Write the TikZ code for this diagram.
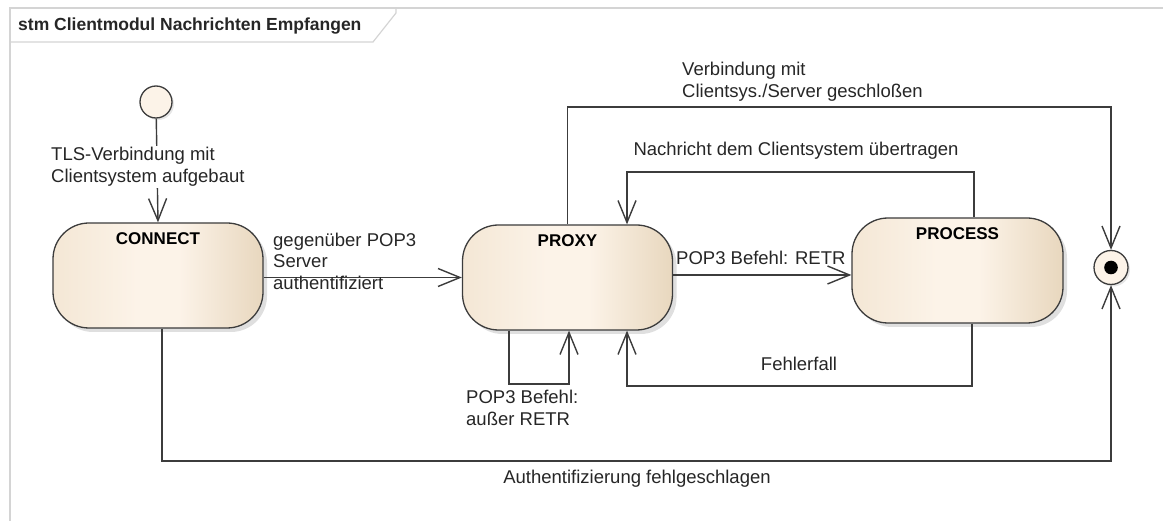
\documentclass[tikz,border=0pt]{standalone}
\usepackage{fontspec}
\setmainfont{Liberation Sans}
\usetikzlibrary{arrows.meta,shadows,calc}
\definecolor{ln}{HTML}{3C3C3C}
\definecolor{txt}{HTML}{262626}
\definecolor{frm}{HTML}{D4D4D4}
\definecolor{stL}{HTML}{F4E7D5}
\definecolor{stM}{HTML}{FCF3E8}
\definecolor{stR}{HTML}{E8D7BE}
\pgfdeclarehorizontalshading{stsh}{100bp}{color(0bp)=(stL); color(25bp)=(stL); color(45bp)=(stM); color(55bp)=(stM); color(75bp)=(stR); color(100bp)=(stR)}
\tikzset{
  x=1pt,y=-1pt,
  statebox/.style={draw=ln,line width=1.3pt,rounded corners=36pt,
    shading=stsh,shading angle=0,
    minimum width=#1,minimum height=105pt,inner sep=0pt,
    drop shadow={shadow xshift=4pt,shadow yshift=-4pt,opacity=0.25}},
  stitle/.style={font=\fontsize{17}{20}\selectfont\bfseries,text=black,inner sep=0pt,anchor=north},
  conn/.style={draw=ln,line width=1.4pt},
  arr/.style={conn,-{Straight Barb[length=22pt,width=18pt,line width=1.4pt]}},
  lbl/.style={font=\fontsize{18.5}{22}\selectfont,text=txt,inner sep=1pt,align=left},
}
\begin{document}
\begin{tikzpicture}
\useasboundingbox (0,0) rectangle (1163,521);
% frame
\draw[frm,line width=1.2pt] (1163,8) -- (10,8) -- (10,521);
\draw[frm,line width=1.2pt] (396,8) -- (396,13) -- (373,42) -- (10,42);
\node[anchor=west,font=\fontsize{17.5}{20}\selectfont\bfseries,text=txt,inner sep=0pt] (title) at (18,26) {stm Clientmodul Nachrichten Empfangen};

% states
\node[circle,draw=ln,line width=1.3pt,fill=stM,minimum size=32pt,inner sep=0pt,
  drop shadow={shadow xshift=2pt,shadow yshift=-2pt,opacity=0.2}] (init) at (156,102) {};
\node[statebox=210pt] (connect) at (158,275.5) {};
\node[stitle] (tconnect) at ([yshift=-10pt]connect.north) {CONNECT};
\node[statebox=210pt] (proxy) at (567.5,277.5) {};
\node[stitle] (tproxy) at ([yshift=-10pt]proxy.north) {PROXY};
\node[statebox=211pt] (process) at (957.5,270.5) {};
\node[stitle] (tprocess) at ([yshift=-10pt]process.north) {PROCESS};
\node[circle,draw=ln,line width=1.3pt,fill=stM,minimum size=34pt,inner sep=0pt,
  drop shadow={shadow xshift=2pt,shadow yshift=-2pt,opacity=0.2}] (final) at (1111,267.5) {};
\fill[black] (final.center) circle (6.8pt);

% helper coordinates
\coordinate (ytop) at (0,107);
\coordinate (ymsg) at (0,172);
\coordinate (yloop) at (0,384);
\coordinate (yerr) at (0,386);
\coordinate (ybot) at (0,461);
\coordinate (pxA) at ([xshift=-58.5pt]proxy.south);
\coordinate (pxB) at ([xshift=1.5pt]proxy.south);
\coordinate (pxC) at ([xshift=59.5pt]proxy.south);
\coordinate (pxD) at ([xshift=59.5pt]proxy.north);
\coordinate (pcT) at ([xshift=16.5pt]process.north);
\coordinate (pcB) at ([xshift=14.5pt]process.south);
\coordinate (cnB) at ([xshift=4pt]connect.south);
\coordinate (pxE) at ([yshift=2.5pt]proxy.east);

% transitions
\draw[arr] (init) -- (connect.north);
\node[lbl,fill=white,anchor=west] (l1) at (50,167) {TLS-Verbindung mit\\Clientsystem aufgebaut};

\draw[arr] (connect.east |- proxy.west) -- (proxy.west);
\node[lbl,anchor=west,align=left,font=\fontsize{18.5}{21.5}\selectfont] (l2) at (272,261) {gegenüber POP3\\Server\\authentifiziert};

\draw[arr] (proxy.north) -- (proxy.north |- ytop) -| (final.north);
\node[lbl,anchor=west] (l3) at (681,82) {Verbindung mit\\Clientsys./Server geschloßen};

\draw[arr] (pcT) -- (pcT |- ymsg) -| (pxD);
\node[lbl] (l4) at (796,151) {Nachricht dem Clientsystem übertragen};

\draw[arr] (pxE) -- (pxE -| process.west);
\node[lbl,anchor=west] (l5) at (675,258) {POP3 Befehl: RETR};

\draw[arr] (pxA) -- (pxA |- yloop) -| (pxB);
\node[lbl,anchor=west] (l6) at (465,408) {POP3 Befehl:\\außer RETR};

\draw[arr] (pcB) -- (pcB |- yerr) -| (pxC);
\node[lbl] (l7) at (799,364) {Fehlerfall};

\draw[arr] (cnB) -- (cnB |- ybot) -| (final.south);
\node[lbl] (l8) at (637,479) {Authentifizierung fehlgeschlagen};
\end{tikzpicture}
\end{document}
